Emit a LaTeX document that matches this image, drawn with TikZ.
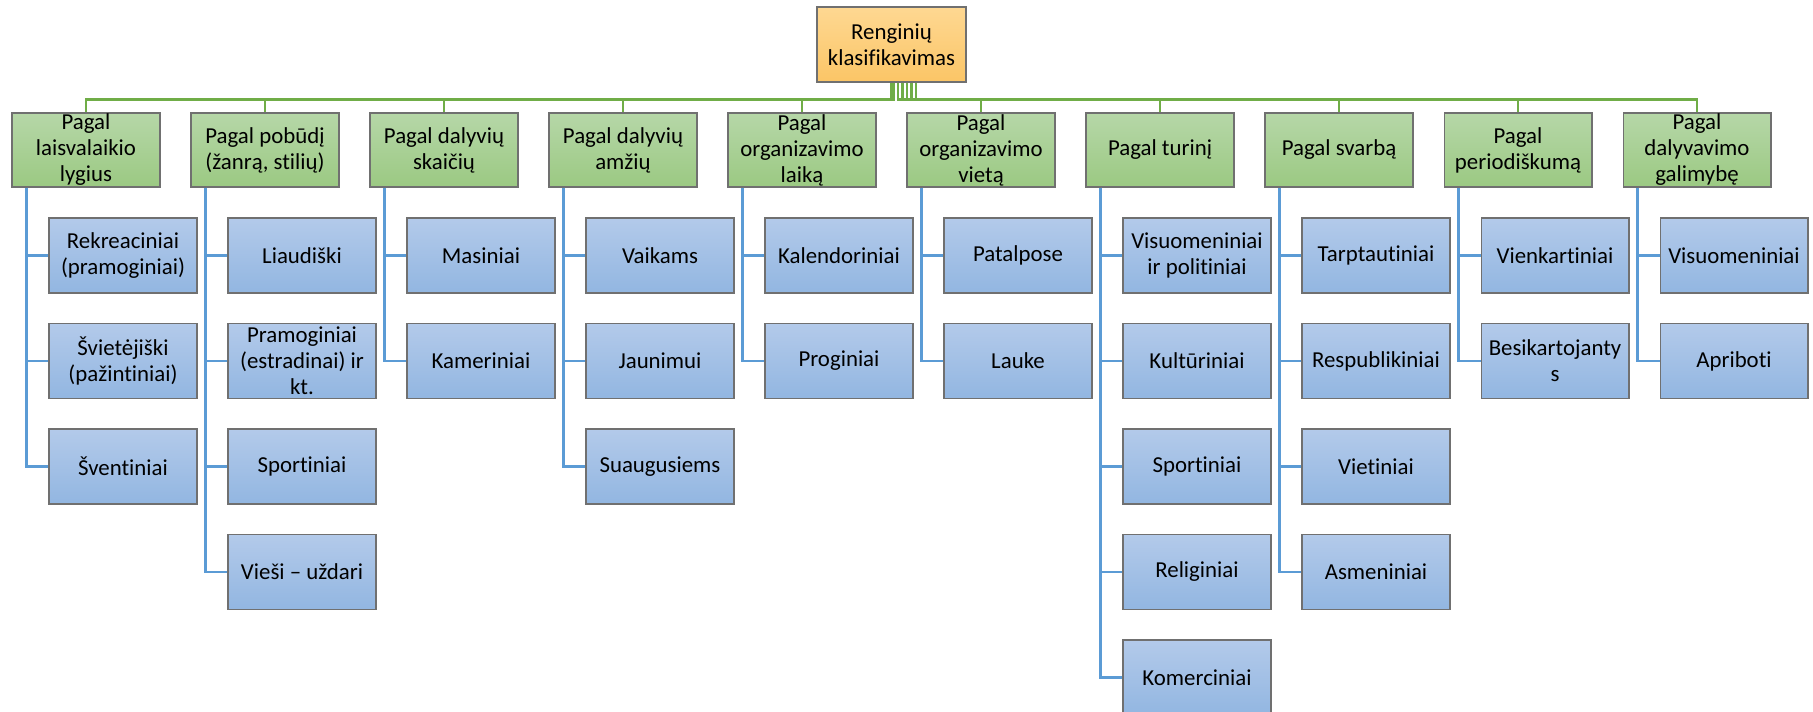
\documentclass[tikz,border=0pt]{standalone}
\usepackage{fontspec}
\setmainfont{Carlito}[Ligatures=NoCommon]
\usepackage{tikz}
\usetikzlibrary{calc}

\definecolor{catTop}{HTML}{B6D7A8}
\definecolor{catBot}{HTML}{9BC982}
\definecolor{itemTop}{HTML}{B3CAEA}
\definecolor{itemBot}{HTML}{92B6E1}
\definecolor{rootTop}{HTML}{FED892}
\definecolor{rootBot}{HTML}{FBC566}
\definecolor{busGreen}{HTML}{70AD47}
\definecolor{linkBlue}{HTML}{5B9BD5}
\definecolor{edgeGray}{HTML}{707070}

\begin{document}
\begin{tikzpicture}[
		x=0.02cm, y=-0.02cm,
		box/.style={rectangle,draw=edgeGray,line width=0.6pt,inner sep=0pt,
			minimum width=2.96cm,minimum height=1.49cm,align=center,
			font=\fontsize{13}{14.8}\selectfont},
		root/.style={box,top color=rootTop,bottom color=rootBot,minimum width=2.98cm,minimum height=1.5cm},
		cat/.style={box,top color=catTop,bottom color=catBot,minimum height=1.48cm},
		item/.style={box,top color=itemTop,bottom color=itemBot,minimum height=1.5cm},
		bus/.style={draw=busGreen,line width=1.4pt},
		link/.style={draw=linkBlue,line width=1.4pt}]

		\useasboundingbox (0,0) rectangle (1813,711);

		\node[root] (r) at (891.5,44.5) {Renginių\\klasifikavimas};

		\node[cat] (a) at (86,150)            {Pagal\\laisvalaikio\\lygius};
		\node[cat] (b) at ($ (a) + (179,0) $) {Pagal pobūdį\\(žanrą, stilių)};
		\node[cat] (c) at ($ (b) + (179,0) $) {Pagal dalyvių\\skaičių};
		\node[cat] (d) at ($ (c) + (179,0) $) {Pagal dalyvių\\amžių};
		\node[cat] (e) at ($ (d) + (179,0) $) {Pagal\\organizavimo\\laiką};
		\node[cat] (f) at ($ (e) + (179,0) $) {Pagal\\organizavimo\\vietą};
		\node[cat] (g) at ($ (f) + (179,0) $) {Pagal turinį};
		\node[cat] (h) at ($ (g) + (179,0) $) {Pagal svarbą};
		\node[cat] (i) at ($ (h) + (179,0) $) {Pagal\\periodiškumą};
		\node[cat] (j) at ($ (i) + (179,0) $) {Pagal\\dalyvavimo\\galimybę};

		% bus from the root
		\draw[bus] ($ (r.south) + (-0.5,0) $) -- ++(0,17) -| (a.north);
		\draw[bus] ($ (r.south) + (0.5,0) $)  -- ++(0,17) -| (b.north);
		\draw[bus] ($ (r.south) + (1.5,0) $)  -- ++(0,17) -| (c.north);
		\draw[bus] ($ (r.south) + (2.5,0) $)  -- ++(0,17) -| (d.north);
		\draw[bus] ($ (r.south) + (2.5,0) $)  -- ++(0,17) -| (e.north);
		\draw[bus] ($ (r.south) + (6.5,0) $)  -- ++(0,17) -| (f.north);
		\draw[bus] ($ (r.south) + (11,0) $)   -- ++(0,17) -| (g.north);
		\draw[bus] ($ (r.south) + (15.5,0) $) -- ++(0,17) -| (h.north);
		\draw[bus] ($ (r.south) + (20,0) $)   -- ++(0,17) -| (i.north);
		\draw[bus] ($ (r.south) + (24.5,0) $) -- ++(0,17) -| (j.north);

		\node[item] (a1) at ($ (a) + (37,105.5) $)   {Rekreaciniai\\(pramoginiai)};
		\node[item] (a2) at ($ (a1) + (0,105.5) $)   {Švietėjiški\\(pažintiniai)};
		\node[item] (a3) at ($ (a2) + (0,105.5) $)   {Šventiniai};

		\node[item] (b1) at ($ (b) + (37,105.5) $)   {Liaudiški};
		\node[item] (b2) at ($ (b1) + (0,105.5) $)   {Pramoginiai\\(estradinai) ir\\kt.};
		\node[item] (b3) at ($ (b2) + (0,105.5) $)   {Sportiniai};
		\node[item] (b4) at ($ (b3) + (0,105.5) $)   {Vieši – uždari};

		\node[item] (c1) at ($ (c) + (37,105.5) $)   {Masiniai};
		\node[item] (c2) at ($ (c1) + (0,105.5) $)   {Kameriniai};

		\node[item] (d1) at ($ (d) + (37,105.5) $)   {Vaikams};
		\node[item] (d2) at ($ (d1) + (0,105.5) $)   {Jaunimui};
		\node[item] (d3) at ($ (d2) + (0,105.5) $)   {Suaugusiems};

		\node[item] (e1) at ($ (e) + (37,105.5) $)   {Kalendoriniai};
		\node[item] (e2) at ($ (e1) + (0,105.5) $)   {Proginiai};

		\node[item] (f1) at ($ (f) + (37,105.5) $)   {Patalpose};
		\node[item] (f2) at ($ (f1) + (0,105.5) $)   {Lauke};

		\node[item] (g1) at ($ (g) + (37,105.5) $)   {Visuomeniniai\\ir politiniai};
		\node[item] (g2) at ($ (g1) + (0,105.5) $)   {Kultūriniai};
		\node[item] (g3) at ($ (g2) + (0,105.5) $)   {Sportiniai};
		\node[item] (g4) at ($ (g3) + (0,105.5) $)   {Religiniai};
		\node[item] (g5) at ($ (g4) + (0,105.5) $)   {Komerciniai};

		\node[item] (h1) at ($ (h) + (37,105.5) $)   {Tarptautiniai};
		\node[item] (h2) at ($ (h1) + (0,105.5) $)   {Respublikiniai};
		\node[item] (h3) at ($ (h2) + (0,105.5) $)   {Vietiniai};
		\node[item] (h4) at ($ (h3) + (0,105.5) $)   {Asmeniniai};

		\node[item] (i1) at ($ (i) + (37,105.5) $)   {Vienkartiniai};
		\node[item] (i2) at ($ (i1) + (0,105.5) $)   {Besikartojanty\\s};

		\node[item] (j1) at ($ (j) + (37,105.5) $)   {Visuomeniniai};
		\node[item] (j2) at ($ (j1) + (0,105.5) $)   {Apriboti};

		% links down to the items
		\draw[link] ($ (a.south west) + (15,0) $) |- (a1.west);
		\draw[link] ($ (a.south west) + (15,0) $) |- (a2.west);
		\draw[link] ($ (a.south west) + (15,0) $) |- (a3.west);

		\draw[link] ($ (b.south west) + (15,0) $) |- (b1.west);
		\draw[link] ($ (b.south west) + (15,0) $) |- (b2.west);
		\draw[link] ($ (b.south west) + (15,0) $) |- (b3.west);
		\draw[link] ($ (b.south west) + (15,0) $) |- (b4.west);

		\draw[link] ($ (c.south west) + (15,0) $) |- (c1.west);
		\draw[link] ($ (c.south west) + (15,0) $) |- (c2.west);

		\draw[link] ($ (d.south west) + (15,0) $) |- (d1.west);
		\draw[link] ($ (d.south west) + (15,0) $) |- (d2.west);
		\draw[link] ($ (d.south west) + (15,0) $) |- (d3.west);

		\draw[link] ($ (e.south west) + (15,0) $) |- (e1.west);
		\draw[link] ($ (e.south west) + (15,0) $) |- (e2.west);

		\draw[link] ($ (f.south west) + (15,0) $) |- (f1.west);
		\draw[link] ($ (f.south west) + (15,0) $) |- (f2.west);

		\draw[link] ($ (g.south west) + (15,0) $) |- (g1.west);
		\draw[link] ($ (g.south west) + (15,0) $) |- (g2.west);
		\draw[link] ($ (g.south west) + (15,0) $) |- (g3.west);
		\draw[link] ($ (g.south west) + (15,0) $) |- (g4.west);
		\draw[link] ($ (g.south west) + (15,0) $) |- (g5.west);

		\draw[link] ($ (h.south west) + (15,0) $) |- (h1.west);
		\draw[link] ($ (h.south west) + (15,0) $) |- (h2.west);
		\draw[link] ($ (h.south west) + (15,0) $) |- (h3.west);
		\draw[link] ($ (h.south west) + (15,0) $) |- (h4.west);

		\draw[link] ($ (i.south west) + (15,0) $) |- (i1.west);
		\draw[link] ($ (i.south west) + (15,0) $) |- (i2.west);

		\draw[link] ($ (j.south west) + (15,0) $) |- (j1.west);
		\draw[link] ($ (j.south west) + (15,0) $) |- (j2.west);

\end{tikzpicture}
\end{document}
